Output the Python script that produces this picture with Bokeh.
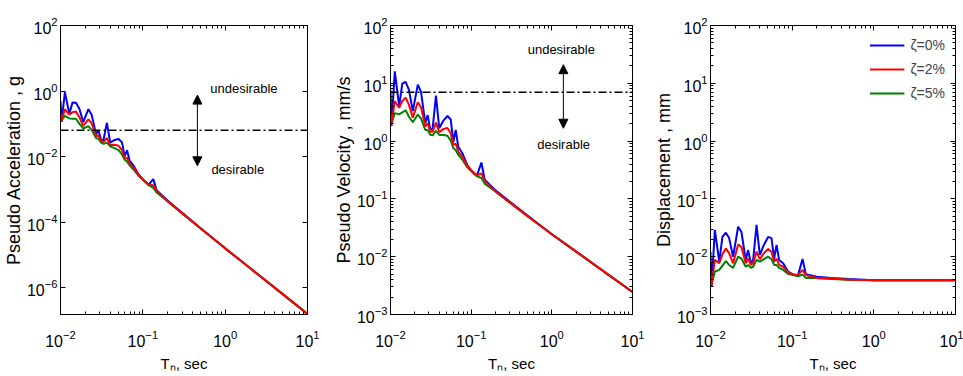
from bokeh.plotting import figure
from bokeh.layouts import row
from bokeh.models import (FixedTicker, LogTickFormatter, LogAxis, Span, Arrow,
                          NormalHead, Label, Legend, LegendItem,
                          CustomJSTickFormatter, Range1d)
from bokeh.embed import file_html
from bokeh.resources import INLINE

# ---------------- data ----------------
period = [0.0100, 0.0103, 0.0113, 0.0128, 0.0140, 0.0154, 0.0169, 0.0189,
          0.0218, 0.0239, 0.0270, 0.0289, 0.0312, 0.0333, 0.0366, 0.0402,
          0.0450, 0.0508, 0.0558, 0.0602, 0.0643, 0.0692, 0.0775, 0.0893,
          0.103, 0.118, 0.134, 0.147, 0.198, 0.30, 0.50, 1.0, 2.0, 5.0, 10.0]

# Pseudo acceleration, g
acc_z0 = [0.490, 0.114, 0.912, 0.202, 0.449, 0.440, 0.294, 0.112, 0.279, 0.189,
          0.0483, 0.0625, 0.0318, 0.0319, 0.107, 0.0266, 0.0318, 0.0342, 0.0270,
          0.0103, 0.0156, 0.00738, 0.00515, 0.00277, 0.00185, 0.00138, 0.00204,
          0.000931, 0.000460, 1.92e-4, 6.59e-5, 1.57e-5, 3.92e-6, 6.27e-7, 1.57e-7]
acc_z2 = [0.205, 0.122, 0.277, 0.190, 0.224, 0.235, 0.161, 0.0863, 0.137, 0.103,
          0.0423, 0.0447, 0.0297, 0.0279, 0.0366, 0.0226, 0.0229, 0.0212, 0.0157,
          0.00912, 0.00904, 0.00604, 0.00449, 0.00267, 0.00185, 0.00138, 0.00132,
          0.000893, 0.000440, 1.87e-4, 6.43e-5, 1.57e-5, 3.92e-6, 6.27e-7, 1.57e-7]
acc_z5 = [0.128, 0.126, 0.173, 0.146, 0.143, 0.142, 0.101, 0.0718, 0.0843, 0.0652,
          0.0368, 0.0346, 0.0264, 0.0243, 0.0264, 0.0204, 0.0181, 0.0156, 0.0117,
          0.0080, 0.0070, 0.00537, 0.00395, 0.00252, 0.00182, 0.00133, 0.00110,
          0.000800, 0.000440, 1.83e-4, 6.43e-5, 1.57e-5, 3.92e-6, 6.27e-7, 1.57e-7]

# Pseudo velocity, mm/s
vel_z0 = [7.66, 1.83, 16.1, 4.04, 9.84, 10.6, 7.78, 3.32, 9.51, 7.08,
          2.04, 2.82, 1.55, 1.66, 6.10, 1.67, 2.23, 2.72, 2.36,
          0.97, 1.56, 0.798, 0.624, 0.386, 0.299, 0.255, 0.427,
          0.214, 0.143, 0.0900, 0.0515, 0.0245, 0.01225, 0.0049, 0.00245]
vel_z2 = [3.21, 1.95, 4.89, 3.78, 4.92, 5.66, 4.27, 2.55, 4.69, 3.85,
          1.79, 2.02, 1.45, 1.45, 2.09, 1.42, 1.61, 1.68, 1.37,
          0.857, 0.908, 0.653, 0.543, 0.372, 0.299, 0.255, 0.277,
          0.205, 0.136, 0.0879, 0.0502, 0.0245, 0.01225, 0.0049, 0.00245]
vel_z5 = [2.01, 2.02, 3.05, 2.90, 3.13, 3.42, 2.67, 2.12, 2.88, 2.44,
          1.56, 1.56, 1.29, 1.26, 1.51, 1.28, 1.27, 1.24, 1.02,
          0.752, 0.703, 0.581, 0.479, 0.352, 0.292, 0.245, 0.230,
          0.184, 0.136, 0.0859, 0.0502, 0.0245, 0.01225, 0.0049, 0.00245]

# Displacement, mm
dis_z0 = [0.0122, 0.0030, 0.029, 0.0082, 0.022, 0.026, 0.021, 0.010, 0.033, 0.027,
          0.0088, 0.013, 0.0077, 0.0088, 0.0355, 0.0107, 0.016, 0.022, 0.021,
          0.0093, 0.016, 0.0088, 0.0077, 0.0055, 0.0049, 0.0048, 0.0091,
          0.0050, 0.0045, 0.0043, 0.0041, 0.0039, 0.0039, 0.0039, 0.0039]
dis_z2 = [0.0051, 0.0032, 0.0088, 0.0077, 0.011, 0.0139, 0.0115, 0.0077, 0.0163, 0.0147,
          0.0077, 0.0093, 0.0072, 0.0077, 0.0122, 0.0091, 0.0115, 0.0136, 0.0122,
          0.0082, 0.0093, 0.0072, 0.0067, 0.0053, 0.0049, 0.0048, 0.0059,
          0.0048, 0.0043, 0.0042, 0.0040, 0.0039, 0.0039, 0.0039, 0.0039]
dis_z5 = [0.0032, 0.0033, 0.0055, 0.0059, 0.0070, 0.0084, 0.0072, 0.0064, 0.0100, 0.0093,
          0.0067, 0.0072, 0.0064, 0.0067, 0.0088, 0.0082, 0.0091, 0.0100, 0.0091,
          0.0072, 0.0072, 0.0064, 0.0059, 0.0050, 0.0048, 0.0046, 0.0049,
          0.0043, 0.0043, 0.0041, 0.0040, 0.0039, 0.0039, 0.0039, 0.0039]

acc_limit = 0.063   # g
vel_limit = 7.0     # mm/s

series_labels = ["\u03b6=0%", "\u03b6=2%", "\u03b6=5%"]
series_colors = ["#0000ff", "#ff0000", "#008000"]

x_major = [0.01, 0.1, 1.0, 10.0]
FONT = "Liberation Sans"


def minors(lo_exp, hi_exp):
    out = []
    for e in range(lo_exp, hi_exp):
        for k in range(2, 10):
            out.append(k * 10.0 ** e)
    return out


def style_axis(ax, labels=True):
    ax.axis_line_color = "black"
    ax.axis_line_width = 1
    ax.major_tick_in = 5
    ax.major_tick_out = 0
    ax.minor_tick_in = 3
    ax.minor_tick_out = 0
    ax.major_tick_line_color = "black"
    ax.minor_tick_line_color = "black"
    ax.major_label_text_font = FONT
    ax.major_label_text_font_size = "16px"
    ax.major_label_text_color = "black"
    ax.axis_label_text_font = FONT
    ax.axis_label_text_font_size = "18px"
    ax.axis_label_text_font_style = "normal"
    ax.axis_label_text_color = "black"
    if not labels:
        ax.formatter = CustomJSTickFormatter(code="return ''")
        ax.major_label_standoff = 0


def make_fig(width, bl, br, y_lo, y_hi, y_ticks, y_minor, ylabel):
    p = figure(width=width, height=374, x_axis_type="log", y_axis_type="log",
               x_range=Range1d(0.01, 10), y_range=Range1d(y_lo, y_hi),
               output_backend="svg", toolbar_location=None,
               min_border_left=bl, min_border_right=br,
               min_border_top=25, min_border_bottom=59)
    p.grid.visible = False
    p.outline_line_color = "black"
    p.outline_line_width = 1
    p.background_fill_color = "white"
    p.border_fill_color = "white"

    xt = FixedTicker(ticks=x_major, minor_ticks=minors(-2, 1))
    yt = FixedTicker(ticks=y_ticks, minor_ticks=y_minor)

    p.xaxis.ticker = xt
    p.yaxis.ticker = yt
    p.xaxis.formatter = LogTickFormatter()
    p.yaxis.formatter = LogTickFormatter()
    for ax in p.xaxis:
        style_axis(ax)
        ax.major_label_standoff = 15
        ax.axis_label_standoff = 5
        ax.axis_label_text_font_size = "15px"
    for ax in p.yaxis:
        style_axis(ax)
        ax.major_label_standoff = 3
        ax.axis_label_standoff = 0
    p.xaxis.axis_label = "T\u2099, sec"
    p.yaxis.axis_label = ylabel

    top = LogAxis(ticker=FixedTicker(ticks=x_major, minor_ticks=minors(-2, 1)))
    style_axis(top, labels=False)
    p.add_layout(top, "above")
    right = LogAxis(ticker=FixedTicker(ticks=y_ticks, minor_ticks=y_minor))
    style_axis(right, labels=False)
    p.add_layout(right, "right")
    return p


def add_series(p, ys):
    rs = {}
    for i in (0, 2, 1):
        rs[i] = p.line(period, ys[i], line_color=series_colors[i], line_width=2)
    return [rs[0], rs[1], rs[2]]


def add_arrow(p, x, y0, y1, t_up, t_up_xy, t_dn, t_dn_xy, align):
    p.add_layout(Arrow(x_start=x, y_start=y0, x_end=x, y_end=y1,
                       line_color="black", line_width=1,
                       start=NormalHead(size=9, fill_color="black", line_color="black"),
                       end=NormalHead(size=9, fill_color="black", line_color="black")))
    for txt, (tx, ty) in ((t_up, t_up_xy), (t_dn, t_dn_xy)):
        p.add_layout(Label(x=tx, y=ty, text=txt, text_font=FONT,
                           text_font_size="13px", text_align=align,
                           text_baseline="middle", text_color="black"))


# ---------------- panel 1: pseudo acceleration ----------------
p1 = make_fig(330, 60, 23, 1.5e-7, 100,
              [1e-6, 1e-4, 1e-2, 1.0, 100.0], [],
              "Pseudo Acceleration , g")
add_series(p1, [acc_z0, acc_z2, acc_z5])
p1.add_layout(Span(location=acc_limit, dimension="width", line_color="black",
                   line_width=1.5, line_dash="8 3 2 3"))
add_arrow(p1, 0.46, 0.0052, 0.75, "undesirable", (0.66, 1.23),
          "desirable", (0.68, 0.0041), "left")

# ---------------- panel 2: pseudo velocity ----------------
p2 = make_fig(320, 57, 18, 1e-3, 100,
              [1e-3, 1e-2, 1e-1, 1.0, 10.0, 100.0], minors(-3, 2),
              "Pseudo Velocity , mm/s")
add_series(p2, [vel_z0, vel_z2, vel_z5])
p2.add_layout(Span(location=vel_limit, dimension="width", line_color="black",
                   line_width=1.5, line_dash="8 3 2 3"))
add_arrow(p2, 1.39, 1.67, 21.0, "undesirable", (1.31, 38.0),
          "desirable", (1.40, 0.89), "center")

# ---------------- panel 3: displacement ----------------
p3 = make_fig(313, 60, 8, 1e-3, 100,
              [1e-3, 1e-2, 1e-1, 1.0, 10.0, 100.0], minors(-3, 2),
              "Displacement , mm")
r3 = add_series(p3, [dis_z0, dis_z2, dis_z5])
legend = Legend(items=[LegendItem(label=series_labels[i], renderers=[r3[i]])
                       for i in range(3)],
                location="top_right", border_line_color=None,
                background_fill_alpha=0, label_text_font=FONT,
                label_text_font_size="14px", glyph_width=35, glyph_height=20,
                spacing=4, label_standoff=6, margin=10, padding=6)
p3.add_layout(legend)

layout = row(p1, p2, p3)
open("out.html", "w").write(file_html(layout, INLINE))
